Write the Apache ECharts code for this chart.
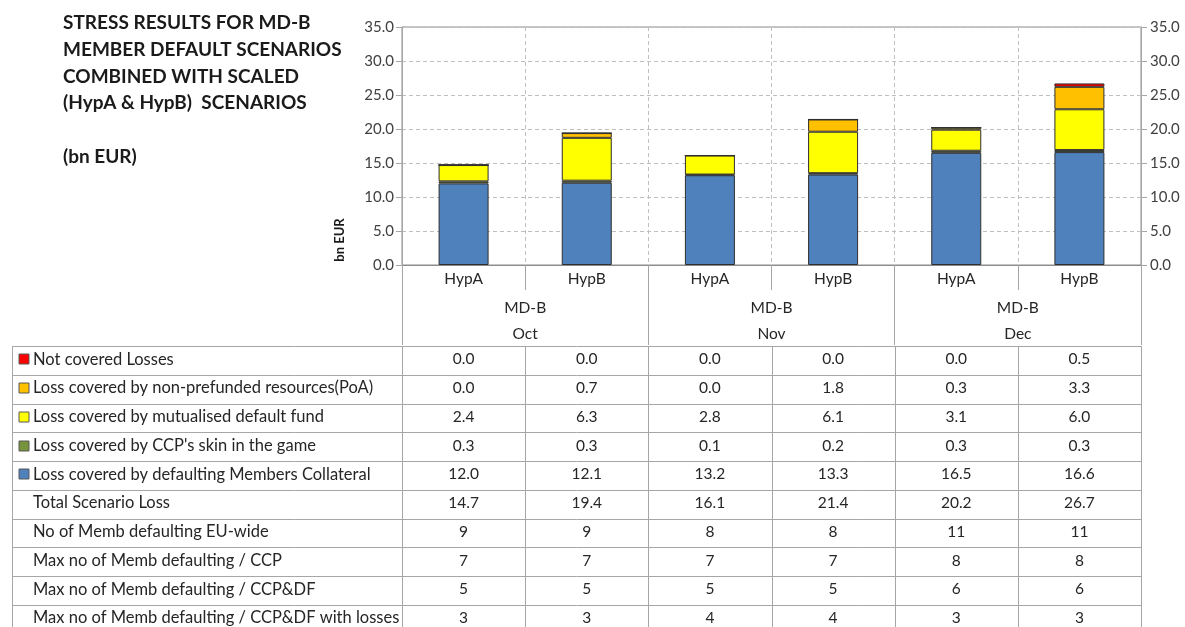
<!DOCTYPE html>
<html>
<head>
<meta charset="utf-8">
<script src="https://cdn.jsdelivr.net/npm/echarts@6/dist/echarts.min.js"></script>
<style>
  html, body { margin: 0; padding: 0; background: #ffffff; }
  #chart { width: 1185px; height: 627px; }
</style>
</head>
<body>
<div id="chart"></div>
<script>
// Scenario columns and month groups
const scenarios = ['HypA', 'HypB', 'HypA', 'HypB', 'HypA', 'HypB'];
const months = ['Oct', 'Nov', 'Dec'];
const memberGroup = 'MD-B';

// Loss waterfall layers (bn EUR)
const notCovered       = [0.0, 0.0, 0.0, 0.0, 0.0, 0.5];
const nonPrefunded     = [0.0, 0.7, 0.0, 1.8, 0.3, 3.3];
const mutualisedFund   = [2.4, 6.3, 2.8, 6.1, 3.1, 6.0];
const skinInTheGame    = [0.3, 0.3, 0.1, 0.2, 0.3, 0.3];
const memberCollateral = [12.0, 12.1, 13.2, 13.3, 16.5, 16.6];

// Extra table rows
const totalLoss      = [14.7, 19.4, 16.1, 21.4, 20.2, 26.7];
const defaultingEU   = [9, 9, 8, 8, 11, 11];
const maxPerCCP      = [7, 7, 7, 7, 8, 8];
const maxPerCCPDF    = [5, 5, 5, 5, 6, 6];
const maxPerCCPDFLos = [3, 3, 4, 4, 3, 3];

// Value axis
const yMin = 0, yMax = 35, yStep = 5;

const titleLines = [
  'STRESS RESULTS FOR MD-B',
  'MEMBER DEFAULT SCENARIOS',
  'COMBINED WITH SCALED',
  '(HypA & HypB)  SCENARIOS',
  '',
  '(bn EUR)'
];

const layers = [
  { name: 'Loss covered by defaulting Members Collateral', data: memberCollateral, color: '#4f81bd' },
  { name: "Loss covered by CCP's skin in the game",         data: skinInTheGame,    color: '#77933c' },
  { name: 'Loss covered by mutualised default fund',       data: mutualisedFund,   color: '#ffff00' },
  { name: 'Loss covered by non-prefunded resources(PoA)',  data: nonPrefunded,     color: '#ffc000' },
  { name: 'Not covered Losses',                            data: notCovered,       color: '#ff0000' }
];

const FONT = 'Lato, "Noto Sans", sans-serif';
const LINE = '#a6a6a6';
const TEXT = '#262626';

const chart = echarts.init(document.getElementById('chart'), null, { renderer: 'canvas' });

const fmt1 = v => v.toFixed(1);

const option = {
  animation: false,
  backgroundColor: '#ffffff',
  textStyle: { fontFamily: FONT },
  grid: {
    left: 402, top: 27, width: 739, height: 238,
    show: true, borderColor: '#8c8c8c', borderWidth: 1, backgroundColor: 'transparent'
  },
  xAxis: [
    {
      type: 'category',
      data: scenarios,
      position: 'bottom',
      axisLine: { show: true, lineStyle: { color: '#8c8c8c', width: 1 } },
      axisTick: { show: true, length: 25, lineStyle: { color: LINE } },
      axisLabel: { color: TEXT, fontSize: 15.5, fontFamily: FONT, margin: 6 },
      splitLine: { show: true, lineStyle: { color: '#bfbfbf', type: [4, 3] } }
    },
    {
      type: 'category',
      data: months,
      position: 'bottom',
      axisLine: { show: false },
      axisTick: { show: true, length: 80, lineStyle: { color: LINE } },
      axisLabel: {
        color: TEXT, fontSize: 15.5, fontFamily: FONT, margin: 30, lineHeight: 26,
        formatter: v => memberGroup + '\n' + v
      },
      splitLine: { show: false }
    }
  ],
  yAxis: [
    {
      type: 'value', min: yMin, max: yMax, interval: yStep, position: 'left',
      axisLine: { show: true, lineStyle: { color: '#a6a6a6' } },
      axisTick: { show: true, length: 6, lineStyle: { color: '#a6a6a6' } },
      axisLabel: { color: '#404040', fontSize: 15, fontFamily: FONT, margin: 8, formatter: fmt1 },
      splitLine: { show: true, lineStyle: { color: '#bfbfbf', type: [4, 3] } }
    },
    {
      type: 'value', min: yMin, max: yMax, interval: yStep, position: 'right',
      axisLine: { show: true, lineStyle: { color: '#a6a6a6' } },
      axisTick: { show: true, length: 6, lineStyle: { color: '#a6a6a6' } },
      axisLabel: { color: '#404040', fontSize: 15, fontFamily: FONT, margin: 9, formatter: fmt1 },
      splitLine: { show: false }
    }
  ],
  series: layers.map(l => ({
    name: l.name,
    type: 'bar',
    stack: 'loss',
    xAxisIndex: 0,
    yAxisIndex: 0,
    barWidth: 50,
    data: l.data,
    itemStyle: { color: l.color, borderColor: '#2f2f2f', borderWidth: 1 }
  }))
};

chart.setOption(option);

// Data table under the chart, aligned with the category columns
function buildTable() {
  const g = [];
  const gridLeft = 402, gridRight = 1141;
  const tableLeft = 12, tableTop = 346, rowH = 28.75;
  const centers = scenarios.map((_, i) => chart.convertToPixel({ xAxisIndex: 0 }, i));
  const colW = (gridRight - gridLeft) / scenarios.length;
  const bounds = [tableLeft, gridLeft];
  for (let i = 1; i <= scenarios.length; i++) bounds.push(gridLeft + i * colW);

  const rows = [
    { label: 'Not covered Losses',                             key: '#ff0000', values: notCovered,      f: fmt1 },
    { label: 'Loss covered by non-prefunded resources(PoA)',   key: '#ffc000', values: nonPrefunded,    f: fmt1 },
    { label: 'Loss covered by mutualised default fund',        key: '#ffff00', values: mutualisedFund,  f: fmt1 },
    { label: "Loss covered by CCP's skin in the game",         key: '#77933c', values: skinInTheGame,   f: fmt1 },
    { label: 'Loss covered by defaulting Members Collateral',  key: '#4f81bd', values: memberCollateral, f: fmt1 },
    { label: 'Total Scenario Loss',                            values: totalLoss,      f: fmt1 },
    { label: 'No of Memb defaulting EU-wide',                  values: defaultingEU,   f: String },
    { label: 'Max no of Memb defaulting / CCP',                values: maxPerCCP,      f: String },
    { label: 'Max no of Memb defaulting / CCP&DF',             values: maxPerCCPDF,    f: String },
    { label: 'Max no of Memb defaulting / CCP&DF with losses', values: maxPerCCPDFLos, f: String }
  ];
  const tableBottom = tableTop + rowH * rows.length;

  for (let k = 0; k <= rows.length; k++) {
    const y = Math.round(tableTop + k * rowH) + 0.5;
    g.push({ type: 'line', shape: { x1: tableLeft, y1: y, x2: gridRight, y2: y }, style: { stroke: LINE, lineWidth: 1 } });
  }
  bounds.forEach(x => {
    const xx = Math.round(x) + 0.5;
    g.push({ type: 'line', shape: { x1: xx, y1: tableTop, x2: xx, y2: tableBottom }, style: { stroke: LINE, lineWidth: 1 } });
  });

  rows.forEach((r, k) => {
    const cy = tableTop + (k + 0.5) * rowH - 1;
    if (r.key) {
      g.push({ type: 'rect', shape: { x: 19, y: Math.round(cy) - 5, width: 10, height: 10 },
               style: { fill: r.key, stroke: '#595959', lineWidth: 1 } });
    }
    g.push({ type: 'text', x: 33, y: cy,
             style: { text: r.label, fill: TEXT, font: '16.5px ' + FONT, align: 'left', verticalAlign: 'middle' } });
    r.values.forEach((v, i) => {
      g.push({ type: 'text', x: centers[i], y: cy,
               style: { text: r.f(v), fill: TEXT, font: '15.5px ' + FONT, align: 'center', verticalAlign: 'middle' } });
    });
  });

  // Heading block
  titleLines.forEach((t, i) => {
    if (!t) return;
    g.push({ type: 'text', x: 63, y: 23 + i * 26.7,
             style: { text: t, fill: '#1a1a1a', font: 'bold 19px ' + FONT, align: 'left', verticalAlign: 'middle' } });
  });

  // Value axis caption
  g.push({ type: 'text', x: 340, y: 240, rotation: Math.PI / 2,
           style: { text: 'bn EUR', fill: '#1a1a1a', font: 'bold 13px ' + FONT, align: 'center', verticalAlign: 'middle' } });

  chart.setOption({ graphic: { elements: g } });
}

buildTable();
</script>
</body>
</html>
